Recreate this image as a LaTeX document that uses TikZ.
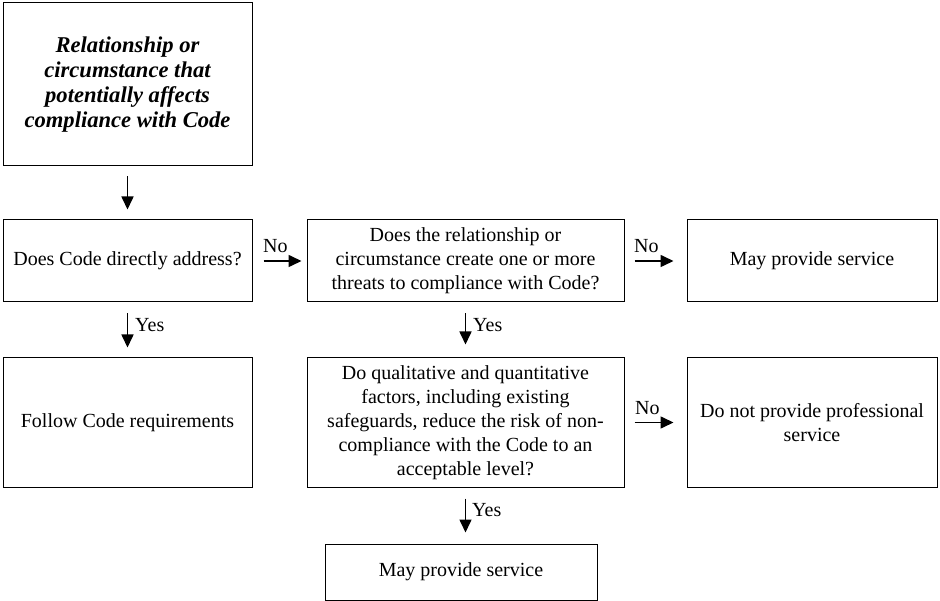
\documentclass[tikz,border=0pt]{standalone}
\usepackage{fontspec}
\setmainfont{Liberation Serif}
\usetikzlibrary{arrows.meta}

\begin{document}
\begin{tikzpicture}[x=1pt,y=-1pt,
  box/.style={draw,line width=1pt,align=center,inner sep=0pt,font=\fontsize{20}{24}\selectfont},
  flow/.style={line width=1.6pt,-{Triangle[length=13pt,width=12pt]}},
  lbl/.style={inner sep=0pt,font=\fontsize{20}{24}\selectfont}]
\useasboundingbox[fill=white] (0,0) rectangle (940,601);
% boxes
\node[box,minimum width=249pt,minimum height=163pt,font=\fontsize{22.6}{25}\selectfont\bfseries\itshape] (start) at (127.5,84.5)
  {Relationship or\\circumstance that\\potentially affects\\compliance with Code};
\node[box,minimum width=249pt,minimum height=82pt] (address) at (127.5,261) {Does Code directly address?};
\node[box,minimum width=317pt,minimum height=82pt] (threats) at (465.5,261)
  {Does the relationship or\\circumstance create one or more\\threats to compliance with Code?};
\node[box,minimum width=250pt,minimum height=82pt] (serviceA) at (812,261) {May provide service};
\node[box,minimum width=249pt,minimum height=129pt] (follow) at (127.5,422.5) {Follow Code requirements};
\node[box,minimum width=317pt,minimum height=129pt] (reduce) at (465.5,422.5)
  {Do qualitative and quantitative\\factors, including existing\\safeguards, reduce the risk of non-\\compliance with the Code to an\\acceptable level?};
\node[box,minimum width=250pt,minimum height=129pt] (noservice) at (812,422.5) {Do not provide professional\\service};
\node[box,minimum width=272pt,minimum height=56pt] (serviceB) at (461,572) {May provide service};
% arrows
\draw[flow,shorten <=10pt,shorten >=10pt] (start.south) -- (start.south |- address.north);
\draw[flow,shorten <=11pt,shorten >=5pt] (address) -- (threats);
\draw[flow,shorten <=10pt,shorten >=13pt] (threats) -- (serviceA);
\draw[flow,shorten <=11pt,shorten >=10pt] (address) -- (follow);
\draw[flow,shorten <=11pt,shorten >=13pt] (threats) -- (reduce);
\draw[flow,shorten <=10pt,shorten >=13pt] (reduce) -- (noservice);
\draw[flow,shorten <=11pt,shorten >=11pt] (reduce.south) -- (reduce.south |- serviceB.north);
% labels
\node[lbl,anchor=base west] (no1) at (263,253) {No};
\node[lbl,anchor=base west] (no2) at (634,253) {No};
\node[lbl,anchor=base west] (no3) at (635,415) {No};
\node[lbl,anchor=base west] (yes1) at (135,332) {Yes};
\node[lbl,anchor=base west] (yes2) at (473,332) {Yes};
\node[lbl,anchor=base west] (yes3) at (472,516) {Yes};
\end{tikzpicture}
\end{document}
